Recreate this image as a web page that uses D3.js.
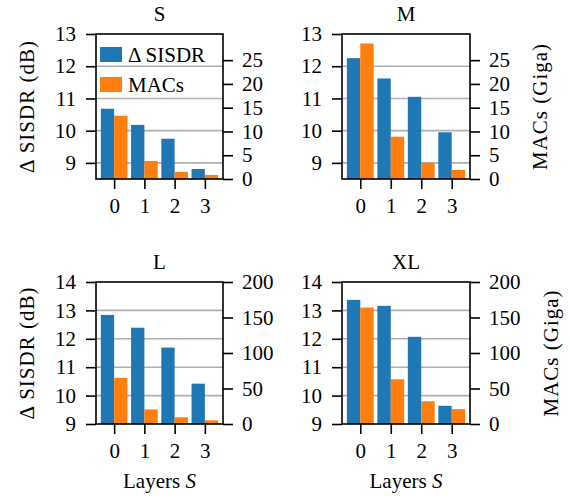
<!DOCTYPE html>
<html>
<head>
<meta charset="utf-8">
<script src="https://cdn.jsdelivr.net/npm/d3@7"></script>
<style>
  body { margin: 0; background: white; }
  svg text { font-family: "Liberation Serif", serif; fill: black; }
</style>
</head>
<body>
<script>
// Layers S on x axis
const layers = [0, 1, 2, 3];
const models = ['S', 'M', 'L', 'XL'];

// Δ SISDR (dB)
const sisdrS = [10.68, 10.18, 9.75, 8.81];
const sisdrM = [12.25, 11.62, 11.05, 9.95];
const sisdrL = [12.84, 12.39, 11.69, 10.42];
const sisdrXL = [13.37, 13.16, 12.07, 9.64];

// MACs (Giga)
const macsS = [13.3, 3.8, 1.5, 0.85];
const macsM = [28.5, 8.9, 3.4, 1.9];
const macsL = [65, 20.5, 9.5, 5.2];
const macsXL = [164, 63, 32, 21];

// tick labels
const sisdrTicksTop = [9, 10, 11, 12, 13];
const macsTicksTop = [0, 5, 10, 15, 20, 25];
const sisdrTicksBottom = [9, 10, 11, 12, 13, 14];
const macsTicksBottom = [0, 50, 100, 150, 200];

const legendLabels = ['Δ SISDR', 'MACs'];
const colors = ['#1f77b4', '#ff7f0e'];

const width = 570;
const height = 496;
const fontSize = 21;

const svg = d3.select('body')
  .append('svg')
  .attr('width', width)
  .attr('height', height);

svg.append('rect')
  .attr('width', width)
  .attr('height', height)
  .attr('fill', 'white');

const panels = [
  { name: models[0], sisdr: sisdrS, macs: macsS, x0: 96, x1: 223, y0: 34, y1: 179,
    ydom: [8.5, 13], y2dom: [0, 30.5], yt: sisdrTicksTop, y2t: macsTicksTop,
    leftLabel: true, rightLabel: false, xLabel: false, legend: true },
  { name: models[1], sisdr: sisdrM, macs: macsM, x0: 342, x1: 470, y0: 34, y1: 179,
    ydom: [8.5, 13], y2dom: [0, 30.5], yt: sisdrTicksTop, y2t: macsTicksTop,
    leftLabel: false, rightLabel: true, xLabel: false, legend: false },
  { name: models[2], sisdr: sisdrL, macs: macsL, x0: 96, x1: 223, y0: 282, y1: 424,
    ydom: [9, 14], y2dom: [0, 200], yt: sisdrTicksBottom, y2t: macsTicksBottom,
    leftLabel: true, rightLabel: false, xLabel: true, legend: false },
  { name: models[3], sisdr: sisdrXL, macs: macsXL, x0: 342, x1: 470, y0: 282, y1: 424,
    ydom: [9, 14], y2dom: [0, 200], yt: sisdrTicksBottom, y2t: macsTicksBottom,
    leftLabel: false, rightLabel: true, xLabel: true, legend: false },
];

const barW = 0.44;

function styleAxis(g) {
  g.select('.domain').remove();
  g.selectAll('.tick line').attr('stroke', 'black').attr('stroke-width', 1.6);
  g.selectAll('.tick text').attr('font-size', fontSize).attr('fill', 'black');
}

panels.forEach((p) => {
  const x = d3.scaleLinear().domain([-0.6, 3.6]).range([p.x0, p.x1]);
  const y = d3.scaleLinear().domain(p.ydom).range([p.y1, p.y0]);
  const y2 = d3.scaleLinear().domain(p.y2dom).range([p.y1, p.y0]);

  const g = svg.append('g');

  // grid on left axis
  g.selectAll('line.grid')
    .data(p.yt.filter((d) => d > p.ydom[0] && d < p.ydom[1]))
    .enter()
    .append('line')
    .attr('class', 'grid')
    .attr('x1', p.x0)
    .attr('x2', p.x1)
    .attr('y1', (d) => y(d))
    .attr('y2', (d) => y(d))
    .attr('stroke', '#b0b0b0')
    .attr('stroke-width', 1.6);

  // SISDR bars
  g.selectAll('rect.sisdr')
    .data(p.sisdr)
    .enter()
    .append('rect')
    .attr('x', (d, i) => x(layers[i] - barW))
    .attr('width', x(barW) - x(0))
    .attr('y', (d) => y(d))
    .attr('height', (d) => y(p.ydom[0]) - y(d))
    .attr('fill', colors[0]);

  // MACs bars
  g.selectAll('rect.macs')
    .data(p.macs)
    .enter()
    .append('rect')
    .attr('x', (d, i) => x(layers[i]))
    .attr('width', x(barW) - x(0))
    .attr('y', (d) => y2(d))
    .attr('height', (d) => y2(0) - y2(d))
    .attr('fill', colors[1]);

  // frame
  g.append('rect')
    .attr('x', p.x0)
    .attr('y', p.y0)
    .attr('width', p.x1 - p.x0)
    .attr('height', p.y1 - p.y0)
    .attr('fill', 'none')
    .attr('stroke', 'black')
    .attr('stroke-width', 1.6);

  // axes
  g.append('g')
    .attr('transform', `translate(0,${p.y1})`)
    .call(d3.axisBottom(x).tickValues(layers).tickFormat(d3.format('d')).tickSize(10).tickPadding(9))
    .call(styleAxis);

  g.append('g')
    .attr('transform', `translate(${p.x0},0)`)
    .call(d3.axisLeft(y).tickValues(p.yt).tickFormat(d3.format('d')).tickSize(10).tickPadding(10))
    .call(styleAxis);

  g.append('g')
    .attr('transform', `translate(${p.x1},0)`)
    .call(d3.axisRight(y2).tickValues(p.y2t).tickFormat(d3.format('d')).tickSize(10).tickPadding(9))
    .call(styleAxis);

  // title
  g.append('text')
    .attr('x', (p.x0 + p.x1) / 2)
    .attr('y', p.y0 - 13)
    .attr('text-anchor', 'middle')
    .attr('font-size', fontSize)
    .text(p.name);

  const cy = (p.y0 + p.y1) / 2;
  if (p.leftLabel) {
    g.append('text')
      .attr('transform', `translate(34,${cy}) rotate(-90)`)
      .attr('text-anchor', 'middle')
      .attr('font-size', fontSize)
      .attr('letter-spacing', 1)
      .text('Δ SISDR (dB)');
  }
  if (p.rightLabel) {
    const rx = p.y2dom[1] > 100 ? 551 : 540;
    g.append('text')
      .attr('transform', `translate(${rx},${cy}) rotate(-90)`)
      .attr('text-anchor', 'middle')
      .attr('dy', '0.35em')
      .attr('font-size', fontSize)
      .attr('letter-spacing', 1)
      .text('MACs (Giga)');
  }
  if (p.xLabel) {
    const t = g.append('text')
      .attr('x', (p.x0 + p.x1) / 2)
      .attr('y', 488)
      .attr('text-anchor', 'middle')
      .attr('font-size', fontSize);
    t.append('tspan').text('Layers ');
    t.append('tspan').attr('font-style', 'italic').text('S');
  }

  if (p.legend) {
    const lg = g.append('g').attr('transform', `translate(${p.x0 + 4},${p.y0 + 13})`);
    legendLabels.forEach((lab, i) => {
      lg.append('rect')
        .attr('x', 0)
        .attr('y', i * 30)
        .attr('width', 22)
        .attr('height', 15)
        .attr('fill', colors[i]);
      lg.append('text')
        .attr('x', 28)
        .attr('y', i * 30 + 15)
        .attr('font-size', fontSize)
        .text(lab);
    });
  }
});
</script>
</body>
</html>
